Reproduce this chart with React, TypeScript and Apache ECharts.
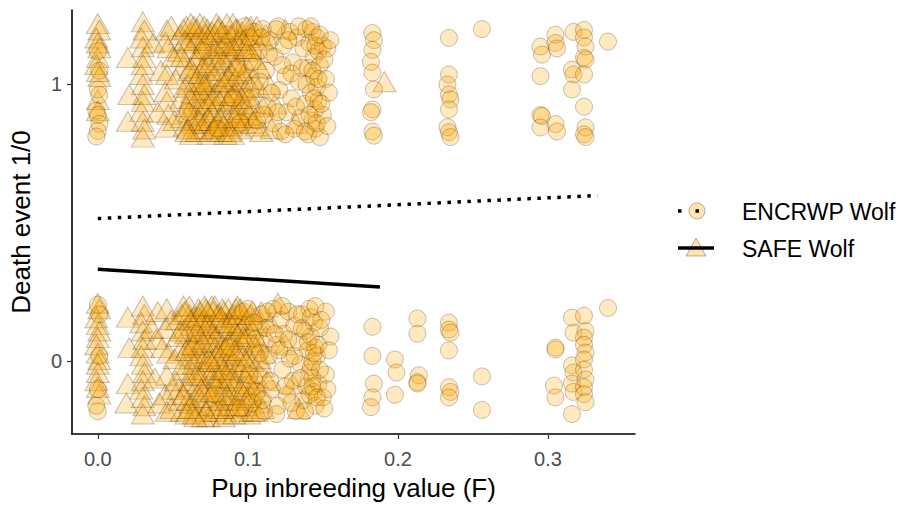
import React, { useEffect, useRef } from "react";
import * as echarts from "echarts";

// ---------- data ----------
const xTicks = [0, 0.1, 0.2, 0.3];
const yTicks = [0, 1];
const seriesNames = ["ENCRWP Wolf", "SAFE Wolf"];

// ENCRWP Wolf (circles): [F, death event jittered]
const encrwpTop: number[][] = [
  [0.000, 0.982], [0.001, 0.962], [-0.001, 0.905], [0.000, 0.890], [0.001, 0.858], [0.000, 0.832], [-0.001, 0.812], [0.000, 1.120], [0.001, 1.050],
  [0.060, 0.900], [0.070, 1.120], [0.080, 0.840], [0.086, 1.180], [0.090, 0.950], [0.093, 1.060], [0.095, 0.860],
  [0.098, 1.210], [0.101, 1.170], [0.104, 1.190], [0.107, 1.120], [0.110, 1.200], [0.112, 1.050], [0.113, 0.920], [0.115, 1.160],
  [0.117, 0.860], [0.118, 1.100], [0.120, 1.210], [0.121, 0.980], [0.122, 0.830], [0.124, 1.140], [0.125, 1.030], [0.126, 0.900],
  [0.128, 1.190], [0.129, 0.950], [0.130, 1.080], [0.131, 0.840], [0.133, 1.170], [0.134, 1.010], [0.135, 0.880], [0.137, 1.130],
  [0.138, 0.930], [0.139, 1.200], [0.140, 1.060], [0.140, 0.820], [0.141, 1.150], [0.142, 0.970], [0.143, 1.190], [0.143, 0.870],
  [0.144, 1.100], [0.144, 1.030], [0.145, 0.910], [0.145, 0.840], [0.146, 1.170], [0.146, 0.990], [0.147, 1.120], [0.147, 0.940],
  [0.148, 0.810], [0.148, 1.070], [0.150, 1.140], [0.150, 0.890], [0.152, 1.020], [0.153, 1.130], [0.154, 0.970],
  [0.102, 0.950], [0.103, 1.080], [0.106, 0.870], [0.108, 1.010], [0.109, 1.170], [0.111, 0.890], [0.114, 1.110], [0.116, 0.970],
  [0.119, 1.200], [0.120, 0.900], [0.123, 1.070], [0.125, 0.820], [0.127, 1.160], [0.129, 1.040], [0.132, 0.920], [0.134, 1.210],
  [0.136, 1.060], [0.138, 0.830], [0.139, 1.000], [0.141, 0.890], [0.142, 1.210], [0.143, 1.050], [0.144, 0.950], [0.145, 1.140],
  [0.146, 0.860], [0.147, 1.020], [0.148, 1.180], [0.149, 0.930], [0.151, 1.090], [0.153, 0.850], [0.155, 1.160],
  [0.183, 1.186], [0.184, 1.160], [0.183, 1.125], [0.182, 1.082], [0.183, 1.043], [0.184, 0.982], [0.183, 0.910], [0.182, 0.900], [0.183, 0.830], [0.184, 0.815],
  [0.234, 1.168], [0.234, 1.036], [0.233, 1.000], [0.234, 0.964], [0.235, 0.946], [0.234, 0.910], [0.233, 0.846], [0.234, 0.828], [0.235, 0.810],
  [0.256, 1.200],
  [0.295, 1.137], [0.296, 1.108], [0.295, 1.030], [0.295, 0.890], [0.296, 0.886], [0.295, 0.845],
  [0.305, 1.180], [0.305, 1.150], [0.306, 1.130], [0.305, 0.857], [0.306, 0.830],
  [0.317, 1.190], [0.316, 1.054], [0.317, 1.036], [0.316, 0.982],
  [0.324, 1.197], [0.324, 1.170], [0.325, 1.137], [0.324, 1.097], [0.325, 1.090], [0.324, 1.036], [0.324, 0.920], [0.325, 0.845], [0.324, 0.820], [0.325, 0.810],
  [0.340, 1.155],
];

const encrwpBottom: number[][] = [
  [0.000, 0.205], [0.001, 0.170], [0.000, -0.180], [-0.001, -0.160], [0.000, -0.100], [0.001, 0.020],
  [0.065, 0.100], [0.078, -0.120], [0.088, 0.050], [0.095, -0.170], [0.097, 0.180],
  [0.100, 0.190], [0.103, -0.150], [0.105, 0.080], [0.107, -0.050], [0.109, 0.170], [0.111, -0.180], [0.112, 0.120], [0.114, 0.020],
  [0.116, -0.100], [0.117, 0.190], [0.119, 0.060], [0.120, -0.160], [0.122, 0.150], [0.123, -0.030], [0.124, 0.100], [0.126, -0.120],
  [0.127, 0.180], [0.128, 0.010], [0.130, -0.070], [0.131, 0.130], [0.132, -0.180], [0.134, 0.070], [0.135, -0.010], [0.136, 0.170],
  [0.137, -0.140], [0.138, 0.110], [0.139, -0.090], [0.140, 0.040], [0.141, 0.190], [0.141, -0.040], [0.142, 0.090], [0.142, -0.020],
  [0.143, 0.000], [0.143, -0.060], [0.144, 0.140], [0.144, -0.110], [0.145, 0.050], [0.145, -0.160], [0.146, 0.020], [0.147, -0.080],
  [0.148, 0.120], [0.150, -0.130], [0.152, 0.180], [0.152, -0.047], [0.153, -0.100], [0.155, 0.090],
  [0.101, -0.050], [0.104, 0.140], [0.106, -0.110], [0.108, 0.030], [0.110, -0.140], [0.113, 0.180], [0.115, -0.070], [0.118, 0.100],
  [0.119, -0.190], [0.121, 0.040], [0.123, 0.200], [0.125, -0.090], [0.127, 0.080], [0.129, -0.150], [0.131, 0.020], [0.133, 0.170],
  [0.135, -0.060], [0.136, 0.120], [0.138, -0.180], [0.140, 0.070], [0.141, -0.120], [0.142, 0.160], [0.143, -0.090], [0.144, 0.030],
  [0.145, 0.200], [0.146, -0.130], [0.147, 0.060], [0.148, -0.030], [0.149, 0.150], [0.151, -0.170], [0.154, 0.040],
  [0.183, 0.125], [0.183, 0.020], [0.184, -0.080], [0.183, -0.130], [0.182, -0.165],
  [0.198, 0.007], [0.199, -0.040], [0.198, -0.120],
  [0.213, 0.155], [0.213, 0.100], [0.214, -0.050], [0.213, -0.075], [0.213, -0.080],
  [0.234, 0.140], [0.234, 0.115], [0.235, 0.104], [0.234, 0.040], [0.234, -0.093], [0.235, -0.110], [0.234, -0.130],
  [0.256, -0.054], [0.256, -0.175],
  [0.305, 0.050], [0.305, 0.043], [0.304, -0.087], [0.305, -0.130],
  [0.316, 0.158], [0.317, 0.104], [0.316, -0.014], [0.317, -0.040], [0.316, -0.080], [0.317, -0.110], [0.316, -0.190],
  [0.324, 0.165], [0.325, 0.110], [0.324, 0.086], [0.324, 0.060], [0.325, 0.032], [0.324, 0.007], [0.324, -0.030], [0.325, -0.065], [0.324, -0.093], [0.324, -0.118], [0.325, -0.147],
  [0.340, 0.193],
];

// SAFE Wolf (triangles)
const safeTop: number[][] = [
  [0.000, 1.220], [0.001, 1.197], [-0.001, 1.168], [0.000, 1.150], [0.001, 1.133], [0.000, 1.097], [-0.001, 1.072], [0.000, 1.047], [0.001, 1.029], [0.000, 0.946], [0.000, 0.905],
  [0.020, 1.097], [0.021, 0.964], [0.020, 0.867],
  [0.030, 1.226], [0.031, 1.197], [0.029, 1.168], [0.030, 1.136], [0.031, 1.097], [0.030, 1.072], [0.029, 1.036], [0.030, 1.000], [0.031, 0.964], [0.030, 0.939], [0.029, 0.903], [0.030, 0.867], [0.031, 0.839], [0.030, 0.810],
  [0.037, 1.150], [0.040, 0.900], [0.042, 1.050],
  [0.046, 1.197], [0.045, 1.154], [0.047, 1.133], [0.046, 1.036], [0.045, 0.975], [0.046, 0.939], [0.047, 0.892], [0.046, 0.846],
  [0.050, 1.100], [0.051, 0.870], [0.049, 1.210],
  [0.055, 1.180], [0.056, 0.950], [0.057, 1.070], [0.058, 0.850], [0.059, 1.210], [0.060, 1.000], [0.061, 0.900], [0.062, 1.130],
  [0.062, 0.820], [0.063, 1.190], [0.064, 1.040], [0.064, 0.930], [0.065, 1.160], [0.066, 0.870], [0.067, 1.100], [0.067, 0.980],
  [0.068, 1.220], [0.069, 0.840], [0.070, 1.060], [0.070, 0.910], [0.071, 1.150], [0.072, 1.010], [0.073, 0.880], [0.073, 1.200],
  [0.074, 0.960], [0.075, 1.120], [0.076, 0.830], [0.077, 1.030], [0.078, 1.180], [0.078, 0.920], [0.079, 1.080], [0.080, 0.860],
  [0.081, 1.210], [0.082, 0.990], [0.083, 1.140], [0.083, 0.890], [0.084, 1.050], [0.085, 0.820], [0.086, 1.170], [0.087, 0.940],
  [0.088, 1.110], [0.088, 1.000], [0.089, 0.850], [0.090, 1.220], [0.091, 1.070], [0.092, 0.910], [0.093, 1.150], [0.094, 0.970],
  [0.095, 0.840], [0.096, 1.190], [0.097, 1.040], [0.098, 0.880], [0.099, 1.120], [0.100, 0.950], [0.102, 1.210], [0.103, 0.860],
  [0.105, 1.090], [0.107, 0.990], [0.109, 0.830], [0.110, 1.160],
  [0.052, 1.020], [0.054, 1.120], [0.056, 0.880], [0.057, 1.200], [0.058, 0.990], [0.059, 0.920], [0.060, 1.150], [0.061, 1.050],
  [0.062, 0.950], [0.063, 0.860], [0.064, 1.210], [0.065, 1.010], [0.066, 1.090], [0.066, 0.830], [0.067, 1.170], [0.068, 0.940],
  [0.068, 1.040], [0.069, 1.130], [0.070, 0.980], [0.071, 0.860], [0.071, 1.210], [0.072, 1.080], [0.073, 0.930], [0.074, 1.160],
  [0.074, 0.820], [0.075, 1.020], [0.076, 1.190], [0.076, 0.900], [0.077, 1.110], [0.078, 0.970], [0.079, 0.850], [0.079, 1.220],
  [0.080, 1.050], [0.081, 0.940], [0.081, 1.140], [0.082, 0.830], [0.083, 1.190], [0.084, 0.960], [0.084, 1.090], [0.085, 1.010],
  [0.086, 0.880], [0.086, 1.220], [0.087, 1.130], [0.088, 0.930], [0.089, 1.040], [0.089, 1.180], [0.090, 0.820], [0.091, 0.970],
  [0.091, 1.120], [0.092, 1.020], [0.093, 0.870], [0.093, 1.200], [0.094, 1.080], [0.095, 0.930], [0.095, 1.160], [0.096, 1.010],
  [0.097, 0.860], [0.098, 1.130], [0.098, 0.980], [0.099, 1.210], [0.100, 1.060], [0.101, 0.890], [0.101, 1.170], [0.103, 1.020],
  [0.104, 0.930], [0.104, 1.130], [0.106, 1.210], [0.106, 0.850], [0.108, 1.060], [0.110, 0.920], [0.112, 1.180], [0.114, 1.000], [0.116, 0.840],
  [0.056, 1.100], [0.058, 1.160], [0.060, 0.840], [0.062, 1.060], [0.063, 0.970], [0.065, 0.890], [0.066, 1.200], [0.068, 0.870],
  [0.069, 1.010], [0.071, 0.950], [0.072, 1.180], [0.074, 1.070], [0.075, 0.870], [0.077, 0.950], [0.078, 1.130], [0.080, 1.200],
  [0.081, 0.880], [0.082, 1.100], [0.084, 0.850], [0.085, 1.150], [0.087, 1.030], [0.088, 0.830], [0.089, 0.960], [0.090, 1.140],
  [0.092, 1.200], [0.094, 0.900], [0.095, 1.050], [0.097, 1.160], [0.099, 0.910], [0.100, 1.130], [0.102, 0.990], [0.105, 0.880],
  [0.062, 1.220], [0.071, 1.000], [0.083, 1.010], [0.096, 0.950], [0.059, 0.830], [0.077, 0.840], [0.091, 0.880], [0.103, 1.180],
  [0.118, 0.930], [0.125, 1.200], [0.132, 0.860], [0.191, 1.010],
];

const safeBottom: number[][] = [
  [0.000, 0.210], [0.001, 0.190], [-0.001, 0.158], [0.000, 0.133], [0.001, 0.110], [0.000, 0.086], [-0.001, 0.060], [0.000, 0.030], [0.001, 0.007], [0.000, -0.010], [0.000, -0.040], [-0.001, -0.070], [0.000, -0.093], [0.001, -0.118],
  [0.020, 0.160], [0.021, 0.050], [0.020, -0.080], [0.019, -0.150],
  [0.030, 0.200], [0.031, 0.170], [0.029, 0.140], [0.030, 0.110], [0.031, 0.080], [0.030, 0.050], [0.029, 0.020], [0.030, -0.010], [0.031, -0.040], [0.030, -0.070], [0.029, -0.100], [0.030, -0.130], [0.031, -0.160], [0.030, -0.190],
  [0.036, 0.120], [0.038, -0.060], [0.039, 0.080], [0.040, 0.180], [0.041, -0.150], [0.043, 0.050],
  [0.046, 0.190], [0.045, 0.120], [0.047, 0.030], [0.046, -0.050], [0.045, -0.120], [0.046, -0.180],
  [0.049, 0.150], [0.050, -0.100], [0.051, 0.010], [0.049, -0.170],
  [0.053, 0.150], [0.054, -0.100], [0.055, 0.040], [0.056, -0.180], [0.057, 0.200], [0.058, -0.030], [0.059, 0.100], [0.060, -0.140],
  [0.061, 0.170], [0.061, -0.070], [0.062, 0.020], [0.063, 0.130], [0.064, -0.190], [0.064, -0.010], [0.065, 0.080], [0.066, -0.120],
  [0.067, 0.190], [0.067, 0.050], [0.068, -0.050], [0.069, 0.140], [0.070, -0.160], [0.070, 0.000], [0.071, 0.100], [0.072, -0.090],
  [0.073, 0.180], [0.073, 0.030], [0.074, -0.200], [0.075, 0.120], [0.075, -0.040], [0.076, 0.070], [0.077, -0.130], [0.078, 0.200],
  [0.078, -0.020], [0.079, 0.090], [0.080, -0.170], [0.081, 0.150], [0.081, -0.070], [0.082, 0.040], [0.083, -0.110], [0.084, 0.180],
  [0.084, 0.010], [0.085, -0.190], [0.086, 0.110], [0.086, -0.050], [0.087, 0.060], [0.088, -0.140], [0.089, 0.160], [0.089, -0.010],
  [0.090, 0.090], [0.091, -0.090], [0.092, 0.190], [0.092, 0.030], [0.093, -0.170], [0.094, 0.130], [0.095, -0.030], [0.096, 0.070],
  [0.097, -0.120], [0.098, 0.170], [0.099, -0.060], [0.100, 0.020], [0.101, -0.190], [0.102, 0.120], [0.104, -0.090], [0.105, 0.050],
  [0.107, -0.150], [0.108, 0.150], [0.110, -0.020], [0.112, 0.090],
  [0.052, -0.070], [0.053, 0.090], [0.055, -0.140], [0.056, 0.170], [0.057, -0.010], [0.058, 0.120], [0.059, -0.190], [0.060, 0.050],
  [0.060, -0.090], [0.061, 0.200], [0.062, -0.150], [0.063, 0.060], [0.063, -0.040], [0.064, 0.160], [0.065, -0.170], [0.065, 0.010],
  [0.066, 0.110], [0.067, -0.080], [0.068, 0.180], [0.068, -0.130], [0.069, 0.030], [0.070, 0.150], [0.070, -0.200], [0.071, -0.030],
  [0.072, 0.080], [0.072, 0.190], [0.073, -0.110], [0.074, 0.010], [0.074, 0.140], [0.075, -0.160], [0.076, 0.200], [0.076, -0.060],
  [0.077, 0.100], [0.078, -0.180], [0.078, 0.050], [0.079, -0.090], [0.080, 0.170], [0.080, 0.000], [0.081, -0.140], [0.082, 0.120],
  [0.082, -0.030], [0.083, 0.190], [0.083, 0.060], [0.084, -0.200], [0.085, -0.080], [0.085, 0.140], [0.086, 0.020], [0.087, -0.160],
  [0.087, 0.190], [0.088, 0.080], [0.088, -0.040], [0.089, -0.120], [0.090, 0.130], [0.090, 0.000], [0.091, -0.190], [0.091, 0.170],
  [0.092, -0.070], [0.093, 0.100], [0.093, -0.140], [0.094, 0.040], [0.094, -0.020], [0.095, 0.190], [0.096, -0.180], [0.096, 0.120],
  [0.097, 0.020], [0.098, -0.090], [0.098, 0.080], [0.099, -0.160], [0.099, 0.150], [0.100, -0.040], [0.101, 0.100], [0.102, -0.120],
  [0.103, 0.180], [0.103, 0.000], [0.104, -0.180], [0.105, 0.130], [0.106, -0.060], [0.107, 0.070], [0.108, -0.110], [0.109, 0.180],
  [0.110, -0.170], [0.111, 0.030], [0.113, -0.070], [0.115, 0.140],
  [0.055, 0.110], [0.057, -0.120], [0.059, 0.040], [0.061, -0.170], [0.062, 0.150], [0.064, 0.060], [0.066, -0.050], [0.067, 0.160],
  [0.069, -0.100], [0.070, 0.070], [0.072, -0.180], [0.073, 0.130], [0.075, 0.000], [0.076, -0.110], [0.077, 0.180], [0.079, 0.020],
  [0.080, -0.060], [0.082, 0.160], [0.083, -0.170], [0.085, 0.050], [0.086, -0.120], [0.088, 0.140], [0.089, -0.060], [0.091, 0.040],
  [0.092, -0.160], [0.094, 0.170], [0.095, -0.100], [0.097, 0.090], [0.099, 0.000], [0.100, -0.130], [0.102, 0.170], [0.104, 0.060],
  [0.106, -0.180], [0.108, 0.010], [0.065, -0.200], [0.071, 0.200], [0.084, -0.030], [0.093, 0.200], [0.058, 0.180], [0.101, -0.080],
  [0.120, 0.210], [0.125, 0.060], [0.130, -0.080], [0.134, -0.170],
];

// fitted lines
const encrwpFit: number[][] = [[0, 0.516], [0.333, 0.599]];
const safeFit: number[][] = [[0, 0.333], [0.188, 0.269]];

// ---------- styles ----------
const FONT = "Liberation Sans, Arial, Helvetica, sans-serif";
const pointFill = "rgba(255,165,0,0.31)";
const pointBorder = "rgba(50,30,0,0.33)";

export default function App() {
  const ref = useRef<HTMLDivElement>(null);
  useEffect(() => {
    if (!ref.current) return;
    const chart = echarts.init(ref.current, undefined, { renderer: "svg" });
    const pointStyle = { color: pointFill, borderColor: pointBorder, borderWidth: 1 };
    chart.setOption({
      animation: false,
      backgroundColor: "#ffffff",
      grid: { left: 68, top: 10, right: 271, bottom: 69, containLabel: false },
      xAxis: {
        type: "value",
        min: -0.0172,
        max: 0.358,
        name: "Pup inbreeding value (F)",
        nameLocation: "middle",
        nameGap: 41,
        nameTextStyle: { color: "#000", fontSize: 26, fontFamily: FONT },
        axisLine: { show: true, onZero: false, lineStyle: { color: "#000", width: 1.6 } },
        axisTick: { show: true, length: 5, customValues: xTicks, lineStyle: { color: "#333", width: 1.2 } },
        axisLabel: {
          customValues: xTicks,
          formatter: (v: number) => v.toFixed(1),
          color: "#4d4d4d",
          fontSize: 20,
          fontFamily: FONT,
          margin: 15,
        },
        splitLine: { show: false },
      },
      yAxis: {
        type: "value",
        min: -0.262,
        max: 1.269,
        name: "Death event 1/0",
        nameLocation: "middle",
        nameGap: 38,
        nameRotate: 90,
        nameTextStyle: { color: "#000", fontSize: 26, fontFamily: FONT },
        axisLine: { show: true, onZero: false, lineStyle: { color: "#000", width: 1.6 } },
        axisTick: { show: true, length: 5, customValues: yTicks, lineStyle: { color: "#333", width: 1.2 } },
        axisLabel: {
          customValues: yTicks,
          formatter: (v: number) => String(v),
          color: "#4d4d4d",
          fontSize: 20,
          fontFamily: FONT,
          margin: 10,
        },
        splitLine: { show: false },
      },
      series: [
        {
          name: seriesNames[1],
          type: "scatter",
          symbol: "triangle",
          symbolSize: [23, 20],
          data: [...safeTop, ...safeBottom],
          itemStyle: pointStyle,
          z: 2,
        },
        {
          name: seriesNames[0],
          type: "scatter",
          symbol: "circle",
          symbolSize: 17,
          data: [...encrwpTop, ...encrwpBottom],
          itemStyle: pointStyle,
          z: 2,
        },
        {
          name: seriesNames[0] + " fit",
          type: "line",
          data: encrwpFit,
          symbol: "none",
          lineStyle: { color: "#000", width: 3.5, type: [3.5, 6.5], cap: "butt" },
          z: 3,
        },
        {
          name: seriesNames[1] + " fit",
          type: "line",
          data: safeFit,
          symbol: "none",
          lineStyle: { color: "#000", width: 3.5, type: "solid" },
          z: 3,
        },
      ],
      graphic: [
        { type: "circle", shape: { cx: 697, cy: 211, r: 8 }, style: { fill: pointFill, stroke: pointBorder, lineWidth: 1 } },
        { type: "rect", shape: { x: 678, y: 209.25, width: 3.5, height: 3.5 }, style: { fill: "#000" } },
        { type: "rect", shape: { x: 695.5, y: 209.25, width: 3.5, height: 3.5 }, style: { fill: "#000" } },
        {
          type: "text",
          x: 742,
          y: 212,
          style: { text: seriesNames[0], fill: "#000", fontSize: 23, fontFamily: FONT, verticalAlign: "middle", align: "left" },
        },
        {
          type: "polygon",
          shape: { points: [[696, 238], [686, 256], [706, 256]] },
          style: { fill: pointFill, stroke: pointBorder, lineWidth: 1 },
        },
        { type: "line", shape: { x1: 678, y1: 248, x2: 714, y2: 248 }, style: { stroke: "#000", lineWidth: 3.5 } },
        {
          type: "text",
          x: 742,
          y: 249,
          style: { text: seriesNames[1], fill: "#000", fontSize: 23, fontFamily: FONT, verticalAlign: "middle", align: "left" },
        },
      ],
    });
    return () => chart.dispose();
  }, []);
  return (
    <div
      ref={ref}
      style={{ position: "fixed", left: 0, top: 0, width: 906, height: 506, background: "#fff" }}
    />
  );
}
